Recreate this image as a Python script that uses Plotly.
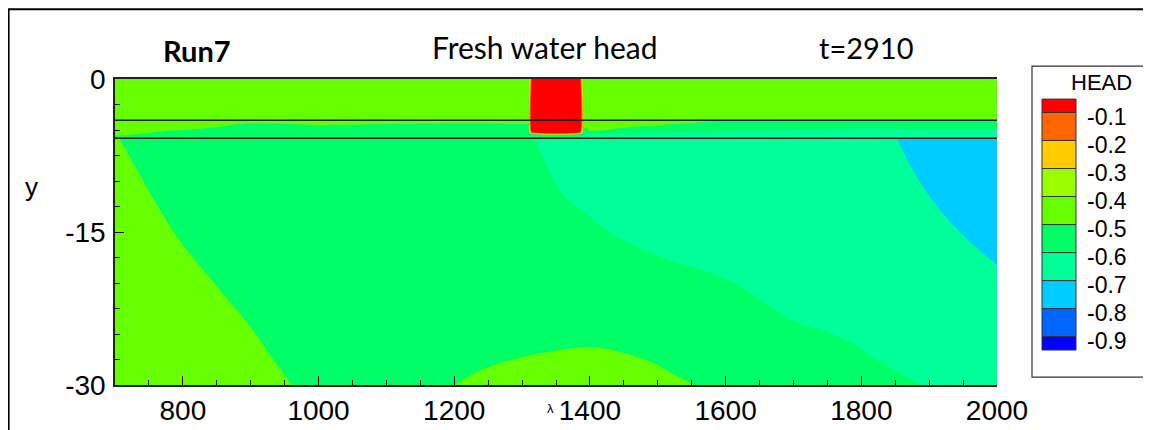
import plotly.graph_objects as go

# HEAD values, estimated at grid nodes
# lower layer (below the second marker line)
x_low = [700, 800, 900, 1000, 1100, 1200, 1300, 1400, 1500, 1600, 1700, 1800, 1900, 2000]
y_low = [-5.8, -8, -11, -15, -20, -25, -27, -28.5, -30]
head_low = [
    [-0.499, -0.515, -0.531, -0.548, -0.564, -0.581, -0.597, -0.615, -0.634, -0.653, -0.671, -0.690, -0.709, -0.727],
    [-0.496, -0.512, -0.529, -0.545, -0.561, -0.578, -0.594, -0.612, -0.631, -0.650, -0.668, -0.687, -0.706, -0.725],
    [-0.492, -0.508, -0.525, -0.541, -0.558, -0.574, -0.590, -0.608, -0.626, -0.645, -0.664, -0.682, -0.701, -0.720],
    [-0.487, -0.502, -0.518, -0.533, -0.549, -0.564, -0.579, -0.595, -0.613, -0.633, -0.652, -0.672, -0.691, -0.711],
    [-0.481, -0.494, -0.507, -0.520, -0.533, -0.546, -0.559, -0.572, -0.585, -0.597, -0.620, -0.645, -0.669, -0.694],
    [-0.476, -0.488, -0.499, -0.511, -0.523, -0.535, -0.546, -0.558, -0.570, -0.581, -0.593, -0.605, -0.625, -0.645],
    [-0.470, -0.480, -0.490, -0.526, -0.535, -0.530, -0.507, -0.469, -0.522, -0.545, -0.570, -0.598, -0.620, -0.635],
    [-0.465, -0.475, -0.488, -0.515, -0.525, -0.5233, -0.465, -0.455, -0.490, -0.581, -0.585, -0.590, -0.611, -0.625],
    [-0.460, -0.470, -0.485, -0.510, -0.515, -0.5005, -0.450, -0.440, -0.460, -0.533, -0.560, -0.585, -0.602, -0.615],
]

# top layer + thin layer (0 .. -5.8)
x_up = [700, 800, 900, 1000, 1200, 1300, 1380, 1400, 1500, 1600, 1700, 1800, 1900, 2000]
y_up = [0, -3.9, -4.3, -4.7, -5.1, -5.5, -5.8]
head_up = [
    [-0.45, -0.45, -0.45, -0.45, -0.45, -0.45, -0.45, -0.45, -0.45, -0.45, -0.45, -0.45, -0.45, -0.45],
    [-0.45, -0.45, -0.45, -0.45, -0.45, -0.45, -0.45, -0.45, -0.45, -0.45, -0.483, -0.483, -0.483, -0.483],
    [-0.45, -0.45, -0.493, -0.45, -0.493, -0.483, -0.483, -0.45, -0.45, -0.55, -0.55, -0.55, -0.55, -0.55],
    [-0.45, -0.45, -0.55, -0.55, -0.55, -0.55, -0.55, -0.45, -0.535, -0.58, -0.58, -0.57, -0.57, -0.57],
    [-0.45, -0.517, -0.55, -0.55, -0.55, -0.55, -0.55, -0.507, -0.57, -0.603, -0.607, -0.65, -0.63, -0.63],
    [-0.49, -0.55, -0.55, -0.55, -0.55, -0.55, -0.55, -0.631, -0.65, -0.65, -0.65, -0.65, -0.65, -0.65],
    [-0.55, -0.55, -0.55, -0.55, -0.55, -0.55, -0.55, -0.65, -0.65, -0.65, -0.65, -0.65, -0.65, -0.65],
]

# pond / source block
x_pond = [1310, 1315, 1385, 1390]
y_pond = [0, -5.2, -5.45]
head_pond = [
    [-0.45, 0.0, 0.0, -0.45],
    [-0.45, 0.0, 0.0, -0.45],
    [-0.55, -0.55, -0.55, -0.55],
]

layer_depths = [-4.05, -5.8]

x_ticks = [800, 1000, 1200, 1400, 1600, 1800, 2000]
y_ticks = [0, -15, -30]
y_tick_labels = ["0", "-15", "-30"]

level_labels = ["-0.1", "-0.2", "-0.3", "-0.4", "-0.5", "-0.6", "-0.7", "-0.8", "-0.9"]
band_colors = ["#FF0000", "#FF6600", "#FFCC00", "#99FF00", "#66FF00",
               "#00FF66", "#00FF99", "#00CCFF", "#0066FF", "#0000FF"]

X_RANGE = [700, 2000]
Y_RANGE = [-30, 0]

# page has an 8px body margin; positions below are in screen pixels
OFF = 8
W, H = 1151, 430
PLOT_L, PLOT_R, PLOT_T, PLOT_B = 115, 997, 79, 388
PW, PH = PLOT_R - PLOT_L, PLOT_B - PLOT_T


def px(x):
    return (x - PLOT_L) / PW


def py(y):
    return (PLOT_B - y) / PH


# discrete colour scale, one colour per band centre
n = len(band_colors)
cscale = [[i / (n - 1), c] for i, c in enumerate(reversed(band_colors))]
contours = dict(start=-0.9, end=-0.1, size=0.1, coloring="fill", showlines=False)

fig = go.Figure()
for xs, ys, zs in [(x_low, y_low, head_low), (x_up, y_up, head_up), (x_pond, y_pond, head_pond)]:
    fig.add_trace(go.Contour(x=xs, y=ys, z=zs, contours=contours, autocontour=False,
                             colorscale=cscale, showscale=False, line=dict(width=0),
                             hoverinfo="skip"))

for d in layer_depths:
    fig.add_trace(go.Scatter(x=X_RANGE, y=[d, d], mode="lines",
                             line=dict(color="#1a1a1a", width=1.5), hoverinfo="skip",
                             showlegend=False))

tickfont = dict(family="Liberation Sans, Arial", size=28, color="black")
fig.update_layout(
    width=W, height=H,
    margin=dict(l=PLOT_L - OFF, r=W - PLOT_R + OFF, t=PLOT_T - OFF, b=H - PLOT_B + OFF),
    paper_bgcolor="white", plot_bgcolor="white",
    showlegend=False,
    xaxis=dict(range=X_RANGE, tickmode="array", tickvals=x_ticks,
               ticks="inside", ticklen=9, tickwidth=1, tickcolor="black",
               minor=dict(tickmode="linear", tick0=700, dtick=50, ticks="inside",
                          ticklen=5, tickcolor="black"),
               showline=True, linecolor="#222", linewidth=1.5, mirror=True,
               showgrid=False, zeroline=False, tickfont=tickfont),
    yaxis=dict(range=Y_RANGE, tickmode="array", tickvals=y_ticks, ticktext=y_tick_labels,
               ticks="inside", ticklen=9, tickwidth=1, tickcolor="black",
               minor=dict(tickmode="linear", tick0=0, dtick=2.5, ticks="inside",
                          ticklen=5, tickcolor="black"),
               showline=True, linecolor="#222", linewidth=1.5,
               showgrid=False, zeroline=False, tickfont=tickfont,
               ticklabelstandoff=2),
)

titlefont = dict(family="Lato, Liberation Sans", size=29, color="black")
annotations = [
    dict(text="<b>Run7</b>", x=px(197), y=py(50), font=titlefont),
    dict(text="Fresh water head", x=px(545), y=py(47), font=dict(titlefont, size=30)),
    dict(text="t=2910", x=px(866), y=py(47), font=titlefont),
    dict(text="y", x=px(31), y=py(188), font=dict(family="Liberation Sans", size=26, color="black")),
    dict(text="λ", x=px(550), y=py(412), font=dict(family="Liberation Sans", size=13, color="black")),
    dict(text="HEAD", x=px(1101), y=py(83), font=dict(family="Liberation Sans", size=22, color="black")),
]

shapes = [
    # outer frame
    dict(type="rect", xref="paper", yref="paper", x0=px(8.6), x1=px(1170), y0=py(450), y1=py(8.6),
         line=dict(color="black", width=2)),
    # legend box
    dict(type="rect", xref="paper", yref="paper", x0=px(1032), x1=px(1144), y0=py(380), y1=py(66),
         line=dict(color="#333", width=1.2), fillcolor="white"),
]

# legend swatches: half-height end boxes, full boxes between labels
top, step, half = 99.3, 28.3, 13.5
edges = [top] + [top + half + i * step for i in range(len(level_labels))] \
    + [top + 2 * half + (len(level_labels) - 1) * step]
for i, c in enumerate(band_colors):
    shapes.append(dict(type="rect", xref="paper", yref="paper", x0=px(1042), x1=px(1076),
                       y0=py(edges[i + 1]), y1=py(edges[i]), fillcolor=c,
                       line=dict(color="#333", width=1)))
for i, lab in enumerate(level_labels):
    annotations.append(dict(text=lab, x=px(1085), y=py(edges[i + 1] + 4.5), xanchor="left",
                            font=dict(family="Liberation Sans", size=23, color="black")))

for a in annotations:
    a.setdefault("xref", "paper")
    a.setdefault("yref", "paper")
    a.setdefault("xanchor", "center")
    a.setdefault("yanchor", "middle")
    a.setdefault("showarrow", False)
fig.update_layout(annotations=annotations, shapes=shapes)

fig.write_html("out.html")
